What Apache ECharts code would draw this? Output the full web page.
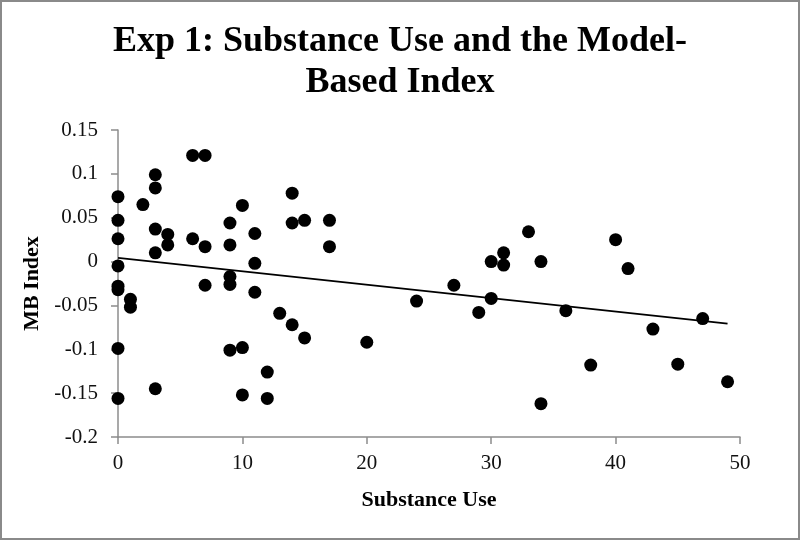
<!DOCTYPE html>
<html><head><meta charset="utf-8">
<script src="https://cdn.jsdelivr.net/npm/echarts@6/dist/echarts.min.js"></script>
<style>html,body{margin:0;padding:0;background:#fff}#c{width:800px;height:540px}</style>
</head><body><div id="c"></div>
<script>
// Substance use (x) and MB index (y)
const substanceUse = [0,0,0,0,0,0,0,0, 1,1, 2, 3,3,3,3,3, 4,4, 6,6, 7,7,7, 9,9,9,9,9, 10,10,10, 11,11,11, 12,12, 13, 14,14,14, 15,15, 17,17, 20, 24, 27, 29, 30,30, 31,31, 33, 34,34, 36, 38, 40, 41, 43, 45, 47, 49];
const mbIndex = [0.074,0.047,0.026,-0.005,-0.028,-0.032,-0.099,-0.156, -0.043,-0.052, 0.065, 0.099,0.084,0.037,0.010,-0.145, 0.031,0.019, 0.121,0.026, 0.121,0.017,-0.027, 0.044,0.019,-0.017,-0.026,-0.101, 0.064,-0.098,-0.152, 0.032,-0.002,-0.035, -0.126,-0.156, -0.059, 0.078,0.044,-0.072, 0.047,-0.087, 0.047,0.017, -0.092, -0.045, -0.027, -0.058, 0.000,-0.042, 0.010,-0.004, 0.034, 0.000,-0.162, -0.056, -0.118, 0.025, -0.008, -0.077, -0.117, -0.065, -0.137];
// Trend line end points
const trendX = [0, 49];
const trendY = [0.0042, -0.0708];
const xTicks = [0, 10, 20, 30, 40, 50];
const yTicks = [-0.2, -0.15, -0.1, -0.05, 0, 0.05, 0.1, 0.15];

const pts = substanceUse.map((x, i) => [x, mbIndex[i]]);
const trend = trendX.map((x, i) => [x, trendY[i]]);
const serif = "'Liberation Serif', 'Times New Roman', serif";
const axisGray = '#8c8c8c';

const chart = echarts.init(document.getElementById('c'), null, {renderer: 'canvas'});
chart.setOption({
  animation: false,
  backgroundColor: '#fff',
  title: {
    text: 'Exp 1: Substance Use and the Model-\nBased Index',
    left: 'center', top: 16,
    textStyle: {fontFamily: serif, fontWeight: 'bold', fontSize: 36, lineHeight: 41, color: '#000'}
  },
  graphic: [{
    type: 'rect', shape: {x: 1, y: 1, width: 798, height: 538},
    style: {fill: 'none', stroke: '#8a8a8a', lineWidth: 2}, silent: true
  }],
  grid: {left: 118, right: 60, top: 130, bottom: 103},
  xAxis: {
    type: 'value', min: xTicks[0], max: xTicks[xTicks.length - 1], interval: 10,
    name: 'Substance Use', nameLocation: 'middle', nameGap: 52,
    nameTextStyle: {fontFamily: serif, fontWeight: 'bold', fontSize: 22, color: '#000'},
    axisLine: {show: true, onZero: false, lineStyle: {color: axisGray, width: 1.5}},
    axisTick: {show: true, length: 7, lineStyle: {color: axisGray, width: 1.5}},
    axisLabel: {fontFamily: serif, fontSize: 21, color: '#111', margin: 16},
    splitLine: {show: false}
  },
  yAxis: {
    type: 'value', min: yTicks[0], max: yTicks[yTicks.length - 1], interval: 0.05,
    name: 'MB Index', nameLocation: 'middle', nameGap: 75, nameRotate: 90,
    nameTextStyle: {fontFamily: serif, fontWeight: 'bold', fontSize: 22, color: '#000'},
    axisLine: {show: true, onZero: false, lineStyle: {color: axisGray, width: 1.5}},
    axisTick: {show: true, length: 7, lineStyle: {color: axisGray, width: 1.5}},
    axisLabel: {fontFamily: serif, fontSize: 21, color: '#111', margin: 20,
      formatter: v => String(Math.round(v * 100) / 100)},
    splitLine: {show: false}
  },
  series: [{
    type: 'scatter', data: pts, symbol: 'circle', symbolSize: 13,
    itemStyle: {color: '#000', opacity: 1}, z: 3
  }, {
    type: 'line', data: trend, symbol: 'none',
    lineStyle: {color: '#000', width: 1.8}, z: 2
  }]
});
</script></body></html>
